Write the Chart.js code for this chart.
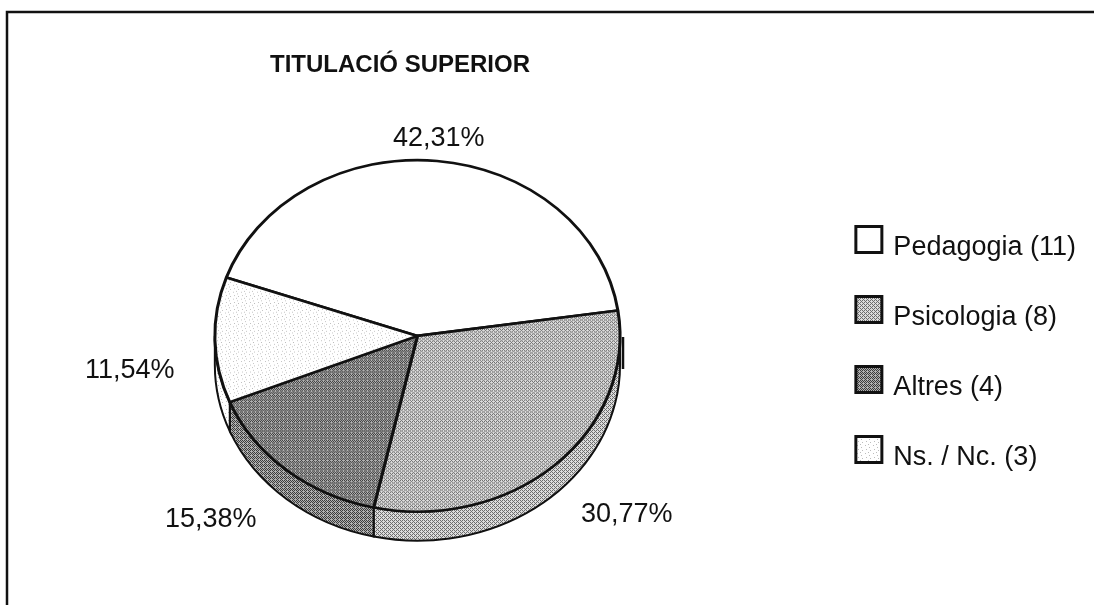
<!DOCTYPE html>
<html><head><meta charset="utf-8">
<style>html,body{margin:0;padding:0;background:#fff}canvas{display:block}</style>
<script src="https://cdn.jsdelivr.net/npm/chart.js@4/dist/chart.umd.min.js"></script>
</head><body>
<div style="width:1094px;height:605px"><canvas id="c" width="1094" height="605"></canvas></div>
<script>
const categories = ['Pedagogia (11)', 'Psicologia (8)', 'Altres (4)', 'Ns. / Nc. (3)'];
const counts = [11, 8, 4, 3];
const percentLabels = ['42,31%', '30,77%', '15,38%', '11,54%'];
const titleText = 'TITULACIÓ SUPERIOR';

function dither(light, dark, cells) {
  const p = document.createElement('canvas');
  p.width = cells[0].length; p.height = cells.length;
  const x = p.getContext('2d');
  cells.forEach((row, j) => [...row].forEach((ch, i) => {
    x.fillStyle = ch === '#' ? dark : light;
    x.fillRect(i, j, 1, 1);
  }));
  return x.createPattern(p, 'repeat');
}
const ctx0 = document.getElementById('c').getContext('2d');
const fills = [
  '#ffffff',
  dither('#dcdcdc', '#6e6e6e', ['#.#.', '.#..', '#.#.', '...#']),
  dither('#b0b0b0', '#3c3c3c', ['#.#.', '.#.#', '#.#.', '.#..']),
  dither('#ffffff', '#bdbdbd', ['........', '..#.....', '......#.', '........', '....#...', '.#......', '........', '.....#..'])
];
const SQUASH = 177 / 204, DEPTH = 29;

const pie3d = {
  id: 'pie3d',
  beforeDraw(chart) {
    const c = chart.ctx;
    c.save();
    c.strokeStyle = '#111';
    c.lineWidth = 2.5;
    c.beginPath();
    c.moveTo(7, 605); c.lineTo(7, 12); c.lineTo(1094, 12);
    c.moveTo(623, 337); c.lineTo(623, 369);
    c.stroke();
    c.restore();
  },
  beforeDatasetsDraw(chart) {
    const c = chart.ctx;
    const arcs = chart.getDatasetMeta(0).data;
    const cx = arcs[0].x, cy = arcs[0].y;
    // side wall of the pie, from the geometry the library computed
    arcs.forEach((a, i) => {
      const r = a.outerRadius;
      const spans = [[a.startAngle, a.endAngle], [a.startAngle + 2 * Math.PI, a.endAngle + 2 * Math.PI], [a.startAngle - 2 * Math.PI, a.endAngle - 2 * Math.PI]];
      spans.forEach(([s0, e0]) => {
        const s = Math.max(s0, 0), e = Math.min(e0, Math.PI);
        if (e <= s) return;
        c.save();
        c.beginPath();
        c.ellipse(cx, cy, r, r * SQUASH, 0, s, e);
        c.ellipse(cx, cy + DEPTH, r, r * SQUASH, 0, e, s, true);
        c.closePath();
        c.fillStyle = fills[i];
        c.fill();
        c.strokeStyle = '#111';
        c.lineWidth = 2;
        c.stroke();
        c.restore();
      });
    });
    c.save();
    c.translate(cx, cy); c.scale(1, SQUASH); c.translate(-cx, -cy);
  },
  afterDatasetsDraw(chart) {
    chart.ctx.restore();
    const c = chart.ctx;
    c.save();
    c.fillStyle = '#111';
    c.font = '27px "Liberation Sans"';
    c.textAlign = 'left';
    c.textBaseline = 'alphabetic';
    c.fillText(percentLabels[0], 393, 146);
    c.fillText(percentLabels[1], 581, 522);
    c.fillText(percentLabels[2], 165, 527);
    c.fillText(percentLabels[3], 85, 378);
    c.restore();
  },
  afterLayout(chart) {
    const t = chart.titleBlock;
    t.left = 270; t.right = 540;
    const l = chart.legend;
    l.top += 49; l.bottom += 49;
    l.left -= 2; l.right -= 2;
    if (!l.__shifted) {
      l.__shifted = true;
      const draw = l.draw;
      l.draw = function (area) {
        const c = this.ctx, ft = c.fillText;
        c.fillText = function (s, x, y, m) {
          return m === undefined ? ft.call(c, s, x - 2, y + 8) : ft.call(c, s, x - 2, y + 8, m);
        };
        draw.call(this, area);
        delete c.fillText;
      };
    }
  }
};

new Chart(ctx0, {
  type: 'pie',
  data: {
    labels: categories,
    datasets: [{
      data: counts,
      backgroundColor: fills,
      borderColor: '#111',
      borderWidth: 3,
      borderAlign: 'center',
      hoverOffset: 0
    }]
  },
  options: {
    responsive: false,
    animation: false,
    rotation: -70.6,
    layout: { padding: { left: 20, right: 4, top: 51, bottom: 65 } },
    plugins: {
      tooltip: { enabled: false },
      title: {
        display: true, text: titleText, align: 'start', color: '#111',
        font: { family: '"Liberation Sans"', size: 24, weight: 'bold', lineHeight: 1.2 },
        padding: { top: 0, bottom: 52 }
      },
      legend: {
        display: true, position: 'right', align: 'center',
        labels: {
          color: '#111', boxWidth: 26, boxHeight: 26, padding: 43,
          font: { family: '"Liberation Sans"', size: 27 }
        }
      }
    }
  },
  plugins: [pie3d]
});
</script>
</body></html>
